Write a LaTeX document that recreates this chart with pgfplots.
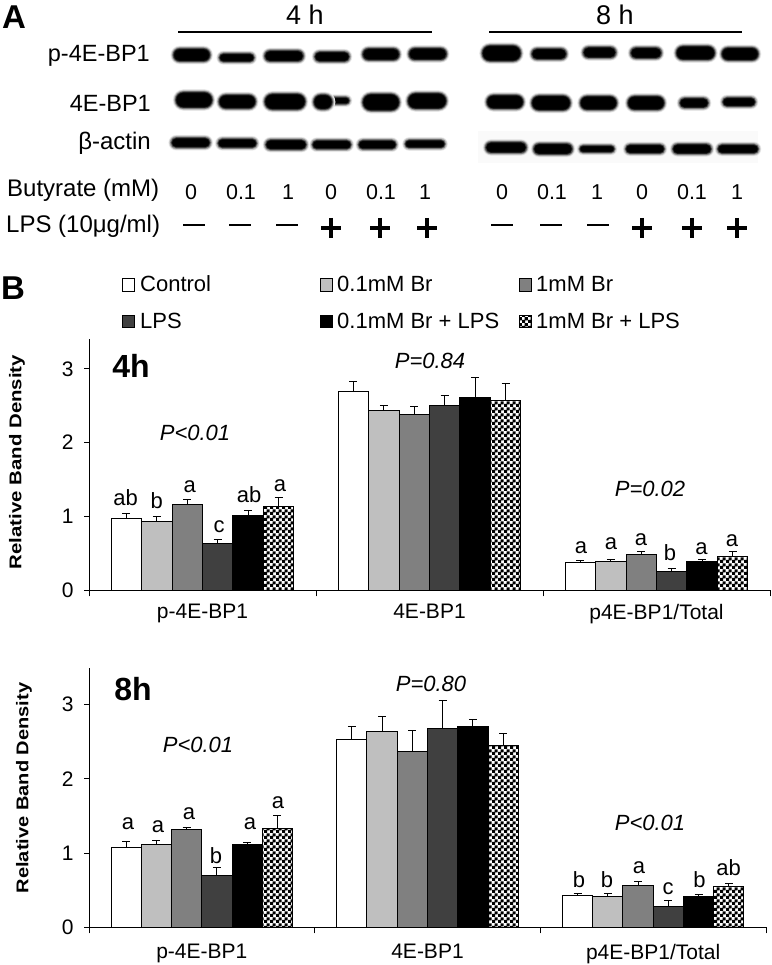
\documentclass[border=0pt]{standalone}
\usepackage{fontspec}
\setmainfont{Liberation Sans}
\usepackage{pgfplots}
\pgfplotsset{compat=1.18}
\usetikzlibrary{patterns}
\pgfdeclarepatternformonly{fine}{\pgfpointorigin}{\pgfqpoint{6pt}{6pt}}{\pgfqpoint{6pt}{6pt}}{\pgfpathrectangle{\pgfpointorigin}{\pgfqpoint{3.5pt}{3.5pt}}\pgfpathrectangle{\pgfqpoint{3pt}{3pt}}{\pgfqpoint{3.5pt}{3.5pt}}\pgfusepath{fill}}
\newcommand\fs[1]{\fontsize{#1}{#1}\selectfont}
\newcommand\T[4][]{\node[inner sep=0pt,#1] at (#2pt,-#3pt) {#4};}
\newcommand\band[4]{%
 \foreach \d/\g in {3.4/6,2.8/15,2.2/28,1.6/45,1/65,0.4/82,-0.2/95,-0.8/100}{%
  \pgfmathsetmacro\hw{#3+\d}\pgfmathsetmacro\hh{max(#4+\d,0.6)}%
  \fill[black!\g,rounded corners=\hh pt] (#1pt-\hw pt,-#2pt-\hh pt) rectangle (#1pt+\hw pt,-#2pt+\hh pt);}}
\definecolor{gA}{HTML}{BFBFBF}
\definecolor{gB}{HTML}{808080}
\definecolor{gC}{HTML}{404040}
\pgfplotsset{
  barax/.style={
    scale only axis, anchor=south west, xmin=0, xmax=3, ymin=0,
    axis x line=bottom, axis y line=left, axis line style={-,line width=1pt},
    xtick={0.5,1.5,2.5}, xticklabels={p-4E-BP1,4E-BP1,p4E-BP1/Total},
    minor xtick={0,1,2,3}, ytick={0,1,2,3},
    tick align=outside, tick style={black,line width=1pt},
    major x tick style={draw=none}, minor tick length=6pt, major tick length=5pt,
    tick label style={font=\fs{21}},
    /pgf/number format/assume math mode=true,
    yticklabel style={xshift=-7pt},
    clip=false,
  },
  sb/.style={ybar, bar width=30.3pt, bar shift=0pt, draw=black, line width=1pt,
    error bars/y dir=plus, error bars/y explicit,
    error bars/error bar style={black,line width=1pt},
    error bars/error mark options={black,rotate=90,mark size=4pt,line width=1pt}},
}
\begin{document}
\begin{tikzpicture}[x=1pt,y=1pt]
\path[use as bounding box] (0pt,0pt) rectangle (771pt,-965pt);
% blot panel
\fill[black!2] (478pt,-131pt) rectangle (758pt,-163pt);
\band{191.7}{55}{18}{6}\band{236.7}{57.7}{17}{3.7}\band{284}{56}{19}{5}\band{332}{56.7}{17}{4.5}\band{381}{54.3}{18}{5.5}\band{427.7}{54}{18.5}{5.5}
\band{501.5}{53.3}{19}{7.5}\band{549}{54}{17}{5}\band{599.5}{52.5}{16}{5}\band{646}{53}{15}{5}\band{695.5}{53}{19}{6.5}\band{740}{54}{18}{6}
\band{194}{100}{18}{7.5}\band{237.3}{101.7}{18}{6.5}\band{285}{101.7}{20}{7.5}\band{340}{100.7}{9}{3}\band{323}{102}{9}{7}\band{381}{102.3}{18}{8}\band{427}{101}{19}{7.5}
\band{505}{102}{18}{6.5}\band{551}{103}{19}{7}\band{598.5}{103}{18}{6.5}\band{646}{103}{18}{6.5}\band{694}{103}{14}{4.5}\band{739}{102}{16}{4}
\band{190.7}{142.7}{19}{4.5}\band{237.3}{143.3}{19}{4}\band{286}{144.7}{20}{4.5}\band{331.7}{144.7}{19}{4}\band{377.3}{144.7}{18.5}{4}\band{425}{144}{19.5}{3.5}
\band{506}{147.5}{20}{5}\band{553}{149}{19}{5}\band{597}{149}{17}{3}\band{645}{149}{19}{4}\band{692}{149}{19}{4.5}\band{738}{149}{20}{4}
\draw[line width=2pt] (178pt,-32pt) -- (432pt,-32pt);
\draw[line width=2pt] (489pt,-32pt) -- (742pt,-32pt);
\T{14}{17}{\fs{33}\bfseries A}
\T{13}{288}{\fs{33}\bfseries B}
\T{305}{15}{\fs{27}4 h}
\T{615}{15}{\fs{27}8 h}
\T[anchor=east]{150}{56}{\fs{23.5}p-4E-BP1}
\T[anchor=east]{151}{103}{\fs{23.5}4E-BP1}
\T[anchor=east]{151}{143}{\fs{24}β-actin}
\T[anchor=west]{7}{190}{\fs{24}Butyrate (mM)}
\T[anchor=west]{6}{226}{\fs{24}LPS (10μg/ml)}
\foreach \x/\s in {191/0,241/0.1,288/1,331/0,381/0.1,425/1,502/0,552/0.1,597/1,642/0,692/0.1,737/1}
 {\T{\x}{192}{\fs{21.5}\s}}
\foreach \x in {194,240,287,502,551,598}
 {\draw[line width=2.6pt] (\x pt-11pt,-225pt) -- (\x pt+11pt,-225pt);}
\foreach \x in {331,380,427,642,692,737}
 {\draw[line width=3.2pt] (\x pt-10pt,-228pt) -- (\x pt+10pt,-228pt);
  \draw[line width=3.2pt] (\x pt,-218pt) -- (\x pt,-238pt);}
% legend
\newcommand\sw[3]{\draw[black,line width=1pt,#3] (#1pt,-#2pt-6pt) rectangle (#1pt+12pt,-#2pt+6pt);}
\sw{122}{285}{fill=white}\T[anchor=west]{140}{284}{\fs{22}Control}
\sw{320}{285}{fill=gA}\T[anchor=west]{337}{284}{\fs{22}0.1mM Br}
\sw{519}{285}{fill=gB}\T[anchor=west]{536}{284}{\fs{22}1mM Br}
\sw{122}{321}{fill=gC}\T[anchor=west]{140}{321}{\fs{22}LPS}
\sw{320}{321}{fill=black}\T[anchor=west]{337}{321}{\fs{22}0.1mM Br + LPS}
\sw{519}{321}{pattern=fine}\T[anchor=west]{536}{321}{\fs{22}1mM Br + LPS}
% 4 h
\begin{axis}[barax, at={(89pt,-590.3pt)}, width=681pt, height=251pt, ymax=3.4, xticklabel style={yshift=-5pt}]
\addplot[sb,fill=white] coordinates {(0.165,0.975) +- (0,0.065) (1.165,2.69) +- (0,0.145) (2.165,0.37) +- (0,0.035)};
\addplot[sb,fill=gA] coordinates {(0.299,0.935) +- (0,0.065) (1.299,2.435) +- (0,0.07) (2.299,0.39) +- (0,0.025)};
\addplot[sb,fill=gB] coordinates {(0.433,1.165) +- (0,0.07) (1.433,2.385) +- (0,0.105) (2.433,0.49) +- (0,0.04)};
\addplot[sb,fill=gC] coordinates {(0.567,0.63) +- (0,0.06) (1.567,2.5) +- (0,0.14) (2.567,0.26) +- (0,0.035)};
\addplot[sb,fill=black] coordinates {(0.701,1.01) +- (0,0.07) (1.701,2.615) +- (0,0.27) (2.701,0.39) +- (0,0.025)};
\addplot[sb,pattern=fine] coordinates {(0.835,1.14) +- (0,0.115) (1.835,2.57) +- (0,0.23) (2.835,0.46) +- (0,0.07)};
\end{axis}
% 8 h
\begin{axis}[barax, at={(89pt,-927.3pt)}, width=677pt, height=259pt, ymax=3.49, xticklabel style={yshift=-8pt}]
\addplot[sb,fill=white] coordinates {(0.165,1.08) +- (0,0.075) (1.165,2.53) +- (0,0.17) (2.165,0.425) +- (0,0.03)};
\addplot[sb,fill=gA] coordinates {(0.299,1.115) +- (0,0.055) (1.299,2.645) +- (0,0.195) (2.299,0.42) +- (0,0.04)};
\addplot[sb,fill=gB] coordinates {(0.433,1.315) +- (0,0.025) (1.433,2.375) +- (0,0.275) (2.433,0.565) +- (0,0.055)};
\addplot[sb,fill=gC] coordinates {(0.567,0.70) +- (0,0.11) (1.567,2.68) +- (0,0.38) (2.567,0.285) +- (0,0.07)};
\addplot[sb,fill=black] coordinates {(0.701,1.12) +- (0,0.025) (1.701,2.71) +- (0,0.095) (2.701,0.415) +- (0,0.025)};
\addplot[sb,pattern=fine] coordinates {(0.835,1.335) +- (0,0.17) (1.835,2.445) +- (0,0.165) (2.835,0.545) +- (0,0.045)};
\end{axis}
% annotations
\T[rotate=90]{17}{462}{\scalebox{1.2}[1]{\fs{17}\bfseries Relative Band Density}}
\T[rotate=90]{24}{788}{\scalebox{1.18}[1]{\fs{17}\bfseries Relative Band Density}}
\T{131}{366}{\fs{32}\bfseries 4h}
\T{133}{689}{\fs{32}\bfseries 8h}
\T{195}{433}{\fs{22}\itshape P<0.01}
\T{430}{361}{\fs{22}\itshape P=0.84}
\T{650}{489}{\fs{22}\itshape P=0.02}
\T{198}{745}{\fs{22}\itshape P<0.01}
\T{431}{684}{\fs{22}\itshape P=0.80}
\T{650}{823}{\fs{22}\itshape P<0.01}
\foreach \x/\y/\s in {125.6/498/ab,156.7/501/b,189.7/487/a,219/527/c,249/495/ab,280/486/a,
 581/548/a,611/544/a,641/540/a,670/553/b,701.5/549/a,732/541/a,
 128/824/a,158/827/a,189/814/a,216/856/b,250/824/a,278/803/a,
 579/880/b,607/880/b,639/868/a,668/889/c,699.5/880/b,728.5/868/ab}
 {\T{\x}{\y}{\fs{22}\s}}
\end{tikzpicture}
\end{document}
